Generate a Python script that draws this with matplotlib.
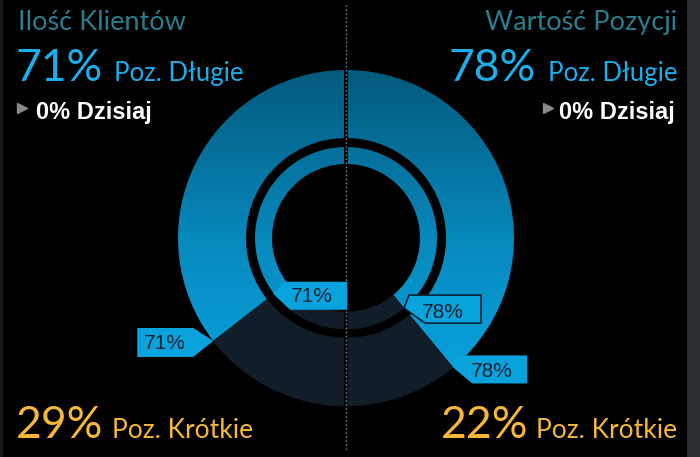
import numpy as np
import matplotlib.pyplot as plt
from matplotlib.patches import Wedge, Polygon, Rectangle
from matplotlib.colors import LinearSegmentedColormap

# data
titles = ["Ilość Klientów", "Wartość Pozycji"]
long_pct = [71, 78]
short_pct = [29, 22]
today_pct = [0, 0]
long_label = "Poz. Długie"
short_label = "Poz. Krótkie"
today_label = "Dzisiaj"

# geometry (pixels, y down)
W, H = 700, 457
cx, cy = 346, 238
rings = [(168, 68), (91, 17)]  # (outer radius, width)

plt.rc("font", family=["Lato", "DejaVu Sans"])
fig = plt.figure(figsize=(7, 4.57), dpi=100)
fig.patch.set_facecolor("black")
ax = fig.add_axes([0, 0, 1, 1])
ax.axis("off")

cmap = LinearSegmentedColormap.from_list("blu", ["#045a7c", "#0788bc", "#08a8e6"])
grad = np.linspace(0, 1, 256).reshape(-1, 1)
R = rings[0][0]
short_col = "#111e29"

bounds = []
for side in range(2):
    sweep = 180 * long_pct[side] / (long_pct[side] + short_pct[side])
    if side == 0:
        lt1, lt2 = 270 - sweep, 270
        st1, st2 = 90, 270 - sweep
        tb = 270 - sweep
    else:
        lt1, lt2 = 270, 270 + sweep
        st1, st2 = 270 + sweep, 450
        tb = 270 + sweep
    pts = []
    for r, w in rings:
        wl = Wedge((cx, cy), r, lt1, lt2, width=w, facecolor="none", edgecolor="none")
        ax.add_patch(wl)
        im = ax.imshow(grad, cmap=cmap, extent=(cx - R, cx + R, cy + R, cy - R),
                       aspect="auto", zorder=1, interpolation="bilinear")
        im.set_clip_path(wl)
        ax.add_patch(Wedge((cx, cy), r, st1, st2, width=w, facecolor=short_col,
                           edgecolor=short_col, lw=0.3, zorder=1))
        a = np.deg2rad(tb)
        pts.append((cx + r * np.cos(a), cy + r * np.sin(a)))
    bounds.append(pts)

# center divider
ax.plot([cx, cx], [cy - R - 1, cy + R + 1], color="black", lw=2.9, zorder=2,
        solid_capstyle="butt")
ax.plot([cx, cx], [5, 452], color="#7d838a", lw=1.0, zorder=3,
        linestyle=(0, (1.1, 1.8)), dash_capstyle="butt")


def callout(tip, shape, toff, txt, border=None):
    tx, ty = tip
    poly = Polygon([(tx + dx, ty + dy) for dx, dy in shape], closed=True,
                   facecolor="#08a2dd", edgecolor=border or "none",
                   lw=1.2 if border else 0, zorder=4)
    ax.add_patch(poly)
    ax.text(tx + toff[0], ty + toff[1], txt, ha="center", va="center",
            fontsize=15, color="#0a2232", family="Liberation Sans", zorder=5)


lp = f"{long_pct[0]}%"
rp = f"{long_pct[1]}%"
callout(bounds[0][0], [(-76, -13), (-20, -13), (0, 0), (-20, 16), (-76, 16)], (-48, 3), lp)
callout(bounds[0][1], [(73, -12), (10, -12), (-1, 0), (16, 16), (73, 16)], (38, 3), lp)
callout(bounds[1][1], [(5, -13), (77, -13), (77, 15), (21, 15), (0, 0)], (39, 4), rp,
        border="#0b2435")
callout(bounds[1][0], [(3, -12), (74, -12), (74, 16), (19, 16), (0, 0)], (39, 4), rp)

# texts
teal = "#2a7d8c"
blue = "#1aaeea"
yellow = "#f6b836"
ax.text(18, 30, titles[0], color=teal, fontsize=19.5, va="baseline", ha="left")
ax.text(677, 30, titles[1], color=teal, fontsize=19.5, va="baseline", ha="right")

ax.text(16, 81, f"{long_pct[0]}%", color=blue, fontsize=32, va="baseline")
ax.text(114, 81, long_label, color=blue, fontsize=18.5, va="baseline")
ax.text(536, 81, f"{long_pct[1]}%", color=blue, fontsize=32, va="baseline", ha="right")
ax.text(677, 81, long_label, color=blue, fontsize=18.5, va="baseline", ha="right")

ax.plot([22], [108], marker=">", ms=7.5, color="#8a8a8a", lw=0)
ax.text(36, 119, f"{today_pct[0]}% {today_label}", color="white", fontsize=17,
        fontweight="bold", family="Liberation Sans", va="baseline")
ax.plot([548], [108], marker=">", ms=7.5, color="#8a8a8a", lw=0)
ax.text(675, 119, f"{today_pct[1]}% {today_label}", color="white", fontsize=17,
        fontweight="bold", family="Liberation Sans", va="baseline", ha="right")

ax.text(16, 438, f"{short_pct[0]}%", color=yellow, fontsize=32, va="baseline")
ax.text(112, 438, short_label, color=yellow, fontsize=19, va="baseline")
ax.text(528, 438, f"{short_pct[1]}%", color=yellow, fontsize=32, va="baseline", ha="right")
ax.text(677, 438, short_label, color=yellow, fontsize=19, va="baseline", ha="right")

# frame edges
ax.add_patch(Rectangle((687, 0), 13, H, facecolor="#2b2e33", edgecolor="none", zorder=0))
ax.add_patch(Rectangle((0, 0), 3, H, facecolor="#17191c", edgecolor="none", zorder=0))

ax.set_xlim(0, W)
ax.set_ylim(H, 0)
fig.savefig("out.png", dpi=100, facecolor="black")
